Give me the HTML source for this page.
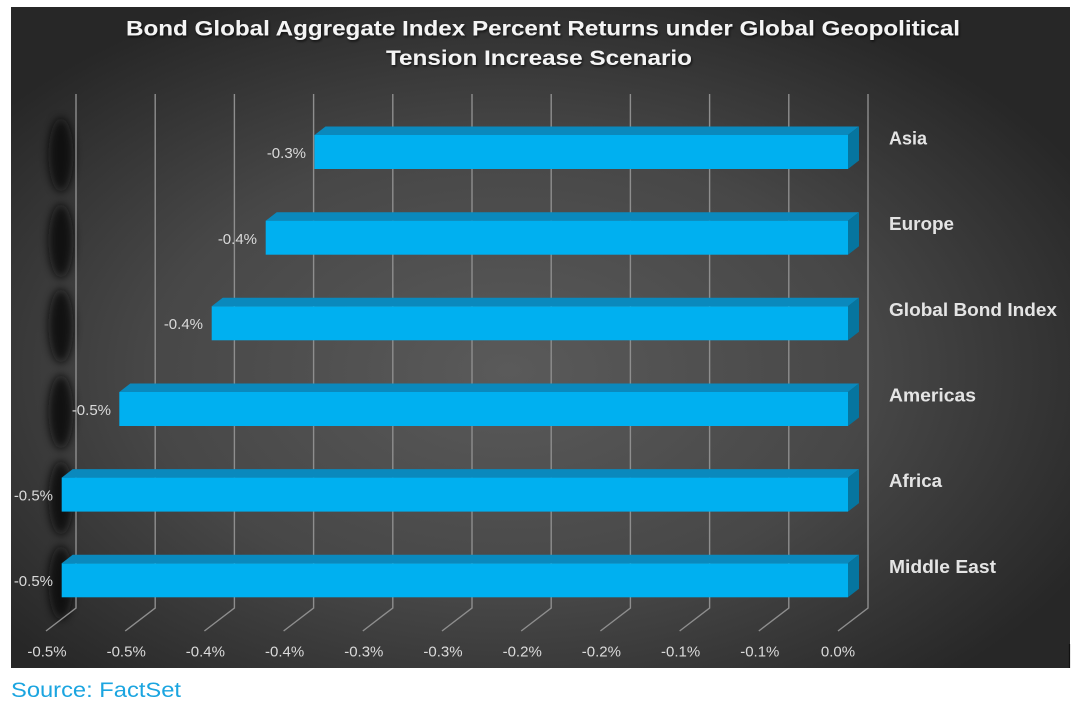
<!DOCTYPE html>
<html>
<head>
<meta charset="utf-8">
<style>
  html, body { margin:0; padding:0; background:#ffffff; }
  body { width:1079px; height:709px; overflow:hidden; position:relative; }
  svg { position:absolute; left:0; top:0; }
</style>
</head>
<body>
<svg width="1079" height="709" viewBox="0 0 1079 709" xmlns="http://www.w3.org/2000/svg">
  <defs>
    <radialGradient id="bg" cx="0.47" cy="0.55" r="0.62" fx="0.47" fy="0.55" gradientUnits="objectBoundingBox">
      <stop offset="0" stop-color="#5a5a5a"/>
      <stop offset="0.55" stop-color="#474747"/>
      <stop offset="1" stop-color="#272727"/>
    </radialGradient>
    <filter id="blur" x="-1" y="-1" width="3" height="3">
      <feGaussianBlur stdDeviation="4.5"/>
    </filter>
    <filter id="tshadow" x="-0.1" y="-0.5" width="1.2" height="2">
      <feDropShadow dx="1" dy="1.5" stdDeviation="1.2" flood-color="#000" flood-opacity="0.7"/>
    </filter>
  </defs>

  <!-- chart background -->
  <rect x="11" y="7" width="1059" height="661" fill="url(#bg)"/>
  <line x1="1069.5" y1="644" x2="1069.5" y2="668" stroke="#111" stroke-width="1.2"/>

  <!-- dark blobs on left -->
  <g fill="#0c0c0c" opacity="0.9" filter="url(#blur)">
    <ellipse cx="61" cy="155" rx="12.5" ry="37"/>
    <ellipse cx="61" cy="241" rx="12.5" ry="37"/>
    <ellipse cx="61" cy="326" rx="12.5" ry="37"/>
    <ellipse cx="61" cy="412" rx="12.5" ry="37"/>
    <ellipse cx="61" cy="498" rx="12.5" ry="37"/>
    <ellipse cx="61" cy="583" rx="12.5" ry="37"/>
  </g>

  <!-- gridlines -->
  <g stroke="#8e8e8e" stroke-width="1.4" fill="none">
    <path d="M76 94 V608 L46 631"/>
    <path d="M155.2 94 V608 L125.2 631"/>
    <path d="M234.4 94 V608 L204.4 631"/>
    <path d="M313.6 94 V608 L283.6 631"/>
    <path d="M392.8 94 V608 L362.8 631"/>
    <path d="M472 94 V608 L442 631"/>
    <path d="M551.2 94 V608 L521.2 631"/>
    <path d="M630.4 94 V608 L600.4 631"/>
    <path d="M709.6 94 V608 L679.6 631"/>
    <path d="M788.8 94 V608 L758.8 631"/>
    <path d="M868 94 V608 L838 631"/>
  </g>

  <!-- bars -->
  <g>
    <polygon points="314.5,135 325.5,126.5 859,126.5 848,135" fill="#0a89bd"/>
    <polygon points="848,135 859,126.5 859,160.5 848,169" fill="#06759f"/>
    <rect x="314.5" y="135" width="533.5" height="34" fill="#00b0f0"/>

    <polygon points="265.7,220.7 276.7,212.2 859,212.2 848,220.7" fill="#0a89bd"/>
    <polygon points="848,220.7 859,212.2 859,246.2 848,254.7" fill="#06759f"/>
    <rect x="265.7" y="220.7" width="582.3" height="34" fill="#00b0f0"/>

    <polygon points="211.7,306.3 222.7,297.8 859,297.8 848,306.3" fill="#0a89bd"/>
    <polygon points="848,306.3 859,297.8 859,331.8 848,340.3" fill="#06759f"/>
    <rect x="211.7" y="306.3" width="636.3" height="34" fill="#00b0f0"/>

    <polygon points="119.3,392 130.3,383.5 859,383.5 848,392" fill="#0a89bd"/>
    <polygon points="848,392 859,383.5 859,417.5 848,426" fill="#06759f"/>
    <rect x="119.3" y="392" width="728.7" height="34" fill="#00b0f0"/>

    <polygon points="61.7,477.6 72.7,469.1 859,469.1 848,477.6" fill="#0a89bd"/>
    <polygon points="848,477.6 859,469.1 859,503.1 848,511.6" fill="#06759f"/>
    <rect x="61.7" y="477.6" width="786.3" height="34" fill="#00b0f0"/>

    <polygon points="61.7,563.3 72.7,554.8 859,554.8 848,563.3" fill="#0a89bd"/>
    <polygon points="848,563.3 859,554.8 859,588.8 848,597.3" fill="#06759f"/>
    <rect x="61.7" y="563.3" width="786.3" height="34" fill="#00b0f0"/>
  </g>

  <!-- value labels -->
  <g font-family="'Liberation Sans', Arial, sans-serif" font-size="15" fill="#dadada" text-anchor="end">
    <text x="306" y="158">-0.3%</text>
    <text x="257" y="244">-0.4%</text>
    <text x="203" y="329">-0.4%</text>
    <text x="111" y="415">-0.5%</text>
    <text x="53" y="500.5">-0.5%</text>
    <text x="53" y="586">-0.5%</text>
  </g>

  <!-- category labels -->
  <g font-family="'Liberation Sans', Arial, sans-serif" font-size="18" font-weight="bold" fill="#e4e4e4">
    <text x="889" y="144.5" textLength="38" lengthAdjust="spacingAndGlyphs">Asia</text>
    <text x="889" y="230.2" textLength="65" lengthAdjust="spacingAndGlyphs">Europe</text>
    <text x="889" y="315.8" textLength="168" lengthAdjust="spacingAndGlyphs">Global Bond Index</text>
    <text x="889" y="401.5" textLength="87" lengthAdjust="spacingAndGlyphs">Americas</text>
    <text x="889" y="487.1" textLength="53" lengthAdjust="spacingAndGlyphs">Africa</text>
    <text x="889" y="572.8" textLength="107" lengthAdjust="spacingAndGlyphs">Middle East</text>
  </g>

  <!-- axis labels -->
  <g font-family="'Liberation Sans', Arial, sans-serif" font-size="15" fill="#dadada" text-anchor="middle">
    <text x="47" y="656.5">-0.5%</text>
    <text x="126.2" y="656.5">-0.5%</text>
    <text x="205.4" y="656.5">-0.4%</text>
    <text x="284.6" y="656.5">-0.4%</text>
    <text x="363.8" y="656.5">-0.3%</text>
    <text x="443" y="656.5">-0.3%</text>
    <text x="522.2" y="656.5">-0.2%</text>
    <text x="601.4" y="656.5">-0.2%</text>
    <text x="680.6" y="656.5">-0.1%</text>
    <text x="759.8" y="656.5">-0.1%</text>
    <text x="838" y="656.5">0.0%</text>
  </g>

  <!-- title -->
  <g font-family="'Liberation Sans', Arial, sans-serif" font-size="21" font-weight="bold" fill="#f4f4f4" filter="url(#tshadow)">
    <text x="126" y="35.5" textLength="834" lengthAdjust="spacingAndGlyphs">Bond Global Aggregate Index Percent Returns under Global Geopolitical</text>
    <text x="386" y="65" textLength="306" lengthAdjust="spacingAndGlyphs">Tension Increase Scenario</text>
  </g>

  <!-- source -->
  <text x="11" y="697" font-family="'Liberation Sans', Arial, sans-serif" font-size="21" fill="#1ba5e0" textLength="170" lengthAdjust="spacingAndGlyphs">Source: FactSet</text>
</svg>
</body>
</html>
